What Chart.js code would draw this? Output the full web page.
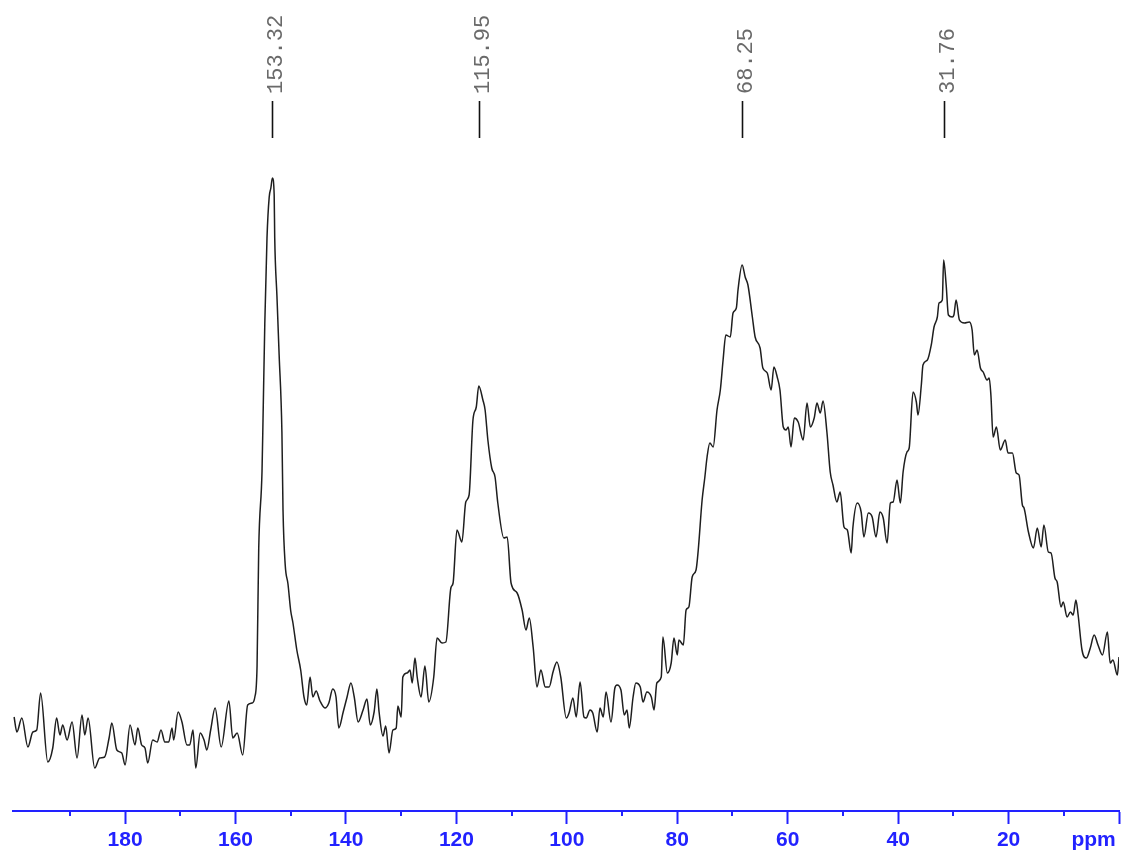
<!DOCTYPE html>
<html><head><meta charset="utf-8">
<script src="https://cdn.jsdelivr.net/npm/chart.js@4"></script>
<style>html,body{margin:0;padding:0;background:#fff;overflow:hidden}#wrap{width:1121px;height:852px}</style>
</head><body><div id="wrap"><canvas id="c" width="1121" height="852"></canvas></div>
<script>
// chemical shift (ppm) of each sampled point of the trace
const ppm = [
200.1,199.6,198.7,197.6,196.7,196.0,195.3,194.0,193.1,192.4,191.8,191.3,190.5,189.6,188.7,187.8,187.3,186.7,185.5,184.6,
183.7,182.9,182.4,181.5,180.6,180.0,179.1,178.2,177.7,177.0,176.4,175.9,175.0,174.2,173.5,172.8,172.1,171.5,171.2,170.4,
169.7,168.8,168.3,167.7,167.2,166.4,165.7,165.2,164.5,163.7,162.6,161.2,160.5,159.7,158.7,157.8,157.0,
156.5,156.1,155.8,155.2,155.0,154.7,154.3,153.9,153.6,153.32,153.0,152.9,152.5,152.1,151.6,151.4,151.0,150.5,150.0,149.6,
148.9,148.2,147.6,147.1,146.5,146.0,145.4,144.7,143.8,143.1,142.4,141.8,141.3,140.5,139.8,139.1,138.5,137.8,136.9,136.2,
135.6,134.9,134.4,134.0,133.3,132.8,132.2,131.5,130.9,130.6,130.0,129.7,128.9,128.4,128.0,127.5,127.1,126.4,125.7,
125.0,124.1,123.5,122.6,121.9,121.0,120.6,119.9,119.0,118.3,117.7,117.0,116.4,115.95,115.2,114.8,114.3,113.6,113.0,112.5,
111.4,110.8,110.1,109.0,108.1,107.4,106.8,106.1,105.4,104.7,103.9,103.2,102.5,101.8,101.1,100.1,99.6,98.9,98.3,97.6,
96.9,96.5,95.8,95.3,94.5,94.0,93.4,92.9,92.0,91.3,
90.9,90.2,89.6,89.1,88.7,88.0,87.5,86.7,86.2,85.5,84.7,84.2,83.7,82.9,82.6,81.8,81.1,80.6,80.0,79.7,
78.9,78.4,77.9,77.3,76.6,76.2,75.5,75.0,74.6,74.1,73.5,72.8,72.2,71.7,71.2,70.4,69.9,69.3,69.0,68.25,
67.7,67.2,66.4,65.9,65.0,64.5,63.7,63.0,62.5,61.9,61.4,60.8,60.3,59.9,59.4,58.8,58.1,57.2,56.5,55.9,
55.2,54.7,54.1,53.6,
52.9,52.3,51.8,51.1,50.5,49.8,49.2,48.5,48.2,47.4,46.7,46.2,45.4,44.7,44.0,43.3,42.7,42.0,41.4,40.9,
40.2,39.6,39.1,38.4,38.0,37.3,36.7,36.4,35.8,35.5,34.7,34.0,33.5,32.9,32.6,32.0,31.76,31.3,30.9,30.2,
29.9,29.5,28.9,28.0,27.1,26.6,26.2,25.7,25.1,24.6,23.9,23.5,23.2,22.8,22.2,21.5,20.6,20.1,19.3,18.6,
18.1,17.5,17.2,16.4,15.5,14.8,14.1,13.6,12.8,12.3,11.6,11.2,10.5,10.1,9.4,8.8,8.3,7.8,7.4,6.7,
5.9,5.2,4.5,3.8,3.0,2.1,1.6,1.1,0.3,0.0
];
// signal intensity (arbitrary units) at each point
const intensity = [
94,79,93,64,79,81,118,49,63,93,76,86,71,89,53,96,76,93,43,53,
54,73,88,61,58,46,86,66,83,66,63,48,71,69,81,69,69,83,71,99,
89,66,66,81,43,78,71,61,81,103,64,110,73,78,56,106,108,
114,145,262,340,398,487,573,614,623,633,616,573,515,456,379,301,246,227,200,188,
161,141,114,106,134,114,120,110,103,108,122,114,83,99,114,128,114,89,101,112,
86,99,122,99,75,85,58,81,83,105,94,134,138,141,128,153,134,114,145,
109,134,173,168,169,223,228,281,269,309,316,391,404,425,411,401,371,343,334,308,
273,274,228,218,201,181,193,164,124,141,124,124,139,149,134,93,98,113,94,129,
94,93,101,98,79,103,94,119,89,123,
126,121,96,101,83,114,128,124,109,119,114,101,128,134,174,138,148,173,156,171,
166,201,204,234,241,261,311,334,354,368,364,401,421,451,476,474,498,503,521,546,
534,526,494,474,463,443,438,421,444,434,421,384,381,384,364,393,389,371,408,384,
393,408,398,410,
379,339,326,309,319,284,281,258,283,308,299,274,298,294,274,299,293,268,308,309,
331,308,339,359,363,419,409,396,426,446,451,466,484,494,508,511,551,526,496,494,
496,511,491,488,489,481,456,461,443,439,431,433,416,374,384,361,371,358,358,338,
336,306,303,279,263,283,264,286,259,258,233,229,204,209,194,199,196,211,196,161,
153,163,176,166,156,179,148,151,136,154
];
// labelled peaks
const peakShifts = [153.32, 115.95, 68.25, 31.76];
const peakLabels = ['153.32', '115.95', '68.25', '31.76'];
// axis ticks
const tickValues = [0,10,20,30,40,50,60,70,80,90,100,110,120,130,140,150,160,170,180,190];
const labelledTicks = [20,40,60,80,100,120,140,160,180];
const unitLabel = 'ppm';
const unitLabelAt = 4.6;

const BLUE = '#2222ff';
const points = ppm.map((p, i) => ({x: p, y: intensity[i]}));

const decor = {
  id: 'decor',
  afterDraw(chart) {
    const ctx = chart.ctx;
    const xs = chart.scales.x;
    ctx.save();
    // minor ticks
    ctx.strokeStyle = BLUE;
    ctx.lineWidth = 2;
    tickValues.forEach(v => {
      if (v % 20 !== 0) {
        const px = Math.round(xs.getPixelForValue(v));
        ctx.beginPath();
        ctx.moveTo(px, xs.top);
        ctx.lineTo(px, xs.top + 5);
        ctx.stroke();
      }
    });
    // unit label
    ctx.fillStyle = BLUE;
    ctx.font = 'bold 21px "Liberation Sans", Arial, sans-serif';
    ctx.textAlign = 'center';
    ctx.textBaseline = 'middle';
    ctx.fillText(unitLabel, xs.getPixelForValue(unitLabelAt), xs.top + 29);
    // peak markers
    peakShifts.forEach((s, i) => {
      const px = Math.round(xs.getPixelForValue(s)) + 0.5;
      ctx.strokeStyle = '#111';
      ctx.lineWidth = 1.6;
      ctx.beginPath();
      ctx.moveTo(px, 101);
      ctx.lineTo(px, 138);
      ctx.stroke();
      ctx.save();
      ctx.translate(px + 3.5, 94);
      ctx.rotate(-Math.PI / 2);
      ctx.font = '22px "Liberation Mono", "Courier New", monospace';
      ctx.fillStyle = '#6a6a6a';
      ctx.textAlign = 'left';
      ctx.textBaseline = 'middle';
      ctx.fillText(peakLabels[i], 0, 0);
      ctx.restore();
    });
    ctx.restore();
  }
};

new Chart(document.getElementById('c'), {
  type: 'line',
  data: {
    datasets: [{
      data: points,
      borderColor: '#1e1e1e',
      borderWidth: 1.5,
      pointRadius: 0,
      fill: false,
      tension: 0.25,
      cubicInterpolationMode: 'monotone'
    }]
  },
  options: {
    responsive: false,
    devicePixelRatio: 1,
    animation: false,
    parsing: false,
    layout: {padding: {left: 13, right: 2, top: 0, bottom: -4}},
    plugins: {legend: {display: false}, tooltip: {enabled: false}},
    scales: {
      x: {
        type: 'linear',
        reverse: true,
        min: 0,
        max: 200.3,
        afterBuildTicks: axis => { axis.ticks = tickValues.map(v => ({value: v})); },
        ticks: {
          autoSkip: false,
          maxRotation: 0,
          padding: 3.4,
          color: BLUE,
          font: {family: '"Liberation Sans", Arial, sans-serif', size: 21, weight: 'bold'},
          callback: v => labelledTicks.includes(v) ? String(v) : ''
        },
        grid: {
          display: true,
          drawOnChartArea: false,
          drawTicks: true,
          tickLength: 13,
          tickWidth: 2,
          tickColor: c => (c.tick && c.tick.value % 20 === 0) ? BLUE : 'rgba(0,0,0,0)'
        },
        border: {display: true, color: BLUE, width: 2}
      },
      y: {display: false, min: 0, max: 811}
    }
  },
  plugins: [decor]
});
</script>
</body></html>
